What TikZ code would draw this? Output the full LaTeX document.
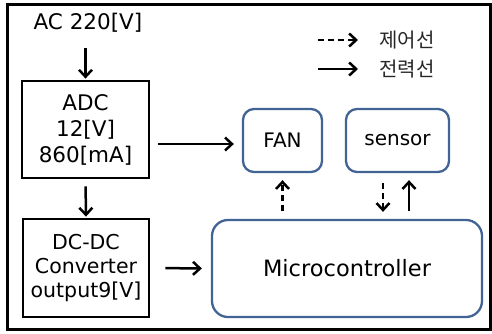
\documentclass[tikz,border=0pt]{standalone}
\usepackage{fontspec}
\setmainfont{DejaVu Sans}
\newfontfamily\krfont{Noto Sans CJK KR}
\usetikzlibrary{arrows.meta}
\definecolor{boxblue}{RGB}{66,100,148}
\tikzset{
  sqbox/.style={draw=black, line width=2.8pt, inner sep=0pt, align=center},
  rbox/.style={draw=boxblue, line width=2.3pt, rounded corners=11pt, inner sep=0pt, align=center},
  pw/.style={draw=black, line width=2.5pt, -{Straight Barb[length=7pt,width=13pt,line width=2.5pt]}},
  ctl/.style={pw, dash pattern=on 6pt off 4pt},
  lbl/.style={font=\fontsize{21.5}{26}\selectfont, align=center},
  kr/.style={font=\krfont\fontsize{20}{22}\selectfont, text=black!85, inner sep=2pt}
}
\begin{document}
\begin{tikzpicture}[x=1pt,y=-1pt]
\useasboundingbox (0,0) rectangle (492,333);
\draw[line width=3pt] (7,4) rectangle (490,329);
% nodes
\node[lbl] (ac) at (88,23) {AC 220[V]};
\node[sqbox, minimum width=127pt, minimum height=97pt, lbl] (adc) at (85.5,129.5) {ADC\\12[V]\\860[mA]};
\node[sqbox, minimum width=126pt, minimum height=98pt, lbl, font=\fontsize{20.5}{24}\selectfont] (dc) at (86,268) {DC-DC\\Converter\\output9[V]};
\node[rbox, minimum width=79pt, minimum height=63pt, lbl, font=\fontsize{20}{24}\selectfont] (fan) at (282.5,140.5) {FAN};
\node[rbox, minimum width=103pt, minimum height=63pt, lbl, font=\fontsize{20}{24}\selectfont] (sensor) at (397.5,140.5) {sensor};
\node[rbox, rounded corners=16pt, minimum width=270pt, minimum height=97pt, lbl, font=\fontsize{22.5}{26}\selectfont] (micro) at (347,268.5) {Microcontroller};
% legend
\node[kr, anchor=west] (t1) at (377,40) {제어선};
\node[kr, anchor=west] (t2) at (377,69) {전력선};
\coordinate (l1) at (318,40);
\coordinate (l2) at (318,69);
\draw[ctl, shorten >=19pt] (l1) -- (t1.west);
\draw[pw, shorten >=19pt] (l2) -- (t2.west);
% helper coordinates
\coordinate (y144) at (0,144);
\coordinate (xs1) at (383,0);
\coordinate (xs2) at (409,0);
% connectors
\draw[pw, shorten <=12pt, shorten >=1pt] (ac.south -| adc.north) -- (adc.north);
\draw[pw, shorten <=8pt, shorten >=8pt] (adc.east |- y144) -- (fan.west |- y144);
\draw[pw, shorten <=7pt, shorten >=1pt] (adc.south) -- (dc.north);
\draw[pw, shorten <=15pt, shorten >=9pt] (dc.east) -- (micro.west);
\draw[ctl, shorten <=8pt, shorten >=7pt] (fan.south |- micro.north) -- (fan.south);
\draw[ctl, shorten <=10pt, shorten >=7pt] (xs1 |- sensor.south) -- (xs1 |- micro.north);
\draw[pw, shorten <=8pt, shorten >=7pt] (xs2 |- micro.north) -- (xs2 |- sensor.south);
\end{tikzpicture}
\end{document}
